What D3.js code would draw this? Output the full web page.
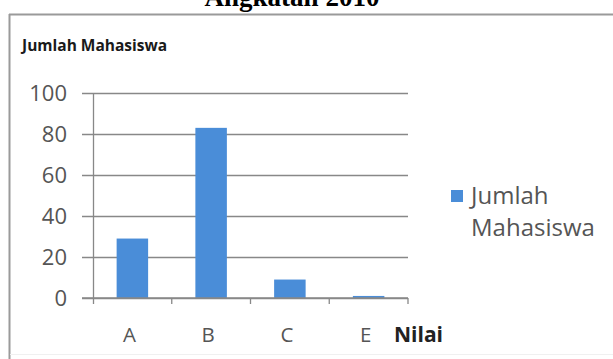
<!DOCTYPE html>
<html><head><meta charset="utf-8">
<script src="https://cdn.jsdelivr.net/npm/d3@7"></script>
<style>html,body{margin:0;padding:0;background:#fff;overflow:hidden}</style>
</head><body>
<script>
const categories = ["A", "B", "C", "E"];
const values = [29, 83, 9, 1];
const yTicks = [0, 20, 40, 60, 80, 100];
const seriesName = "Jumlah Mahasiswa";
const legendLines = ["Jumlah", "Mahasiswa"];
const docTitle = "Angkatan 2010";
const xAxisTitle = "Nilai";

const W = 613, H = 359;
const svg = d3.select("body").append("svg").attr("width", W).attr("height", H);
svg.append("rect").attr("width", W).attr("height", H).attr("fill", "#fff");

// document title (cut at top, as in the reference)
svg.append("text").attr("x", 292).attr("y", 6).attr("text-anchor", "middle")
  .attr("font-family", "Liberation Serif").attr("font-weight", "bold").attr("font-size", 27)
  .attr("fill", "#000").text(docTitle);

// chart frame
svg.append("line").attr("x1", 9.5).attr("x2", 9.5).attr("y1", 14).attr("y2", H).attr("stroke", "#9a9a9a").attr("stroke-width", 2);
svg.append("line").attr("x1", 9).attr("x2", W).attr("y1", 14.5).attr("y2", 14.5).attr("stroke", "#9a9a9a").attr("stroke-width", 2);
svg.append("line").attr("x1", 10).attr("x2", W).attr("y1", 354.5).attr("y2", 354.5).attr("stroke", "#f0f0f0").attr("stroke-width", 1);

// chart title
svg.append("text").attr("x", 22).attr("y", 51)
  .attr("font-family", "Open Sans").attr("font-weight", "bold").attr("font-size", 15.5)
  .attr("fill", "#1a1a1a").text(seriesName);

const x0 = 93, x1 = 408, yTop = 93, yBot = 298;
const x = d3.scaleBand().domain(categories).range([x0, x1]).paddingInner(0.6).paddingOuter(0.3);
const y = d3.scaleLinear().domain([0, 100]).range([yBot, yTop]);

// gridlines + y ticks
const yAxis = d3.axisLeft(y).tickValues(yTicks).tickSize(-(x1 - x0)).tickPadding(0).tickFormat("");
const gy = svg.append("g").attr("transform", `translate(${x0},0)`).call(yAxis);
gy.select(".domain").remove();
gy.selectAll(".tick line").attr("x1", -11).attr("stroke", "#888").attr("stroke-width", 1.3);

// y tick labels
svg.append("g").selectAll("text").data(yTicks).join("text")
  .attr("x", 67).attr("y", d => y(d) + 8).attr("text-anchor", "end")
  .attr("font-family", "Open Sans").attr("font-size", 22).attr("fill", "#555")
  .text(d => d);

// y axis line
svg.append("line").attr("x1", x0 + 0.5).attr("x2", x0 + 0.5).attr("y1", yTop).attr("y2", yBot + 6)
  .attr("stroke", "#888").attr("stroke-width", 1.3);

// bars
svg.append("g").selectAll("rect").data(values).join("rect")
  .attr("x", (d, i) => x(categories[i])).attr("width", x.bandwidth())
  .attr("y", d => y(d)).attr("height", d => yBot - y(d))
  .attr("fill", "#4a8dd8");

// x axis
const xb = d3.scalePoint().domain(d3.range(categories.length + 1)).range([x0, x1]);
svg.append("line").attr("x1", x0 - 11).attr("x2", x1).attr("y1", yBot).attr("y2", yBot)
  .attr("stroke", "#888").attr("stroke-width", 1.3);
svg.append("g").selectAll("line").data(d3.range(1, categories.length + 1)).join("line")
  .attr("x1", d => xb(d)).attr("x2", d => xb(d)).attr("y1", yBot).attr("y2", yBot + 6)
  .attr("stroke", "#888").attr("stroke-width", 1.3);

svg.append("g").selectAll("text").data(categories).join("text")
  .attr("x", d => x(d) + x.bandwidth() / 2 - 3).attr("y", 342).attr("text-anchor", "middle")
  .attr("font-family", "Open Sans").attr("font-size", 20.5).attr("fill", "#555")
  .text(d => d);

svg.append("text").attr("x", 394).attr("y", 342)
  .attr("font-family", "Open Sans").attr("font-weight", "bold").attr("font-size", 21)
  .attr("fill", "#222").text(xAxisTitle);

// legend
svg.append("rect").attr("x", 451).attr("y", 190).attr("width", 12).attr("height", 12).attr("fill", "#4a8dd8");
svg.append("g").selectAll("text").data(legendLines).join("text")
  .attr("x", 471).attr("y", (d, i) => 204 + i * 32)
  .attr("font-family", "Open Sans").attr("font-size", 24).attr("fill", "#555").text(d => d);
</script>
</body></html>
